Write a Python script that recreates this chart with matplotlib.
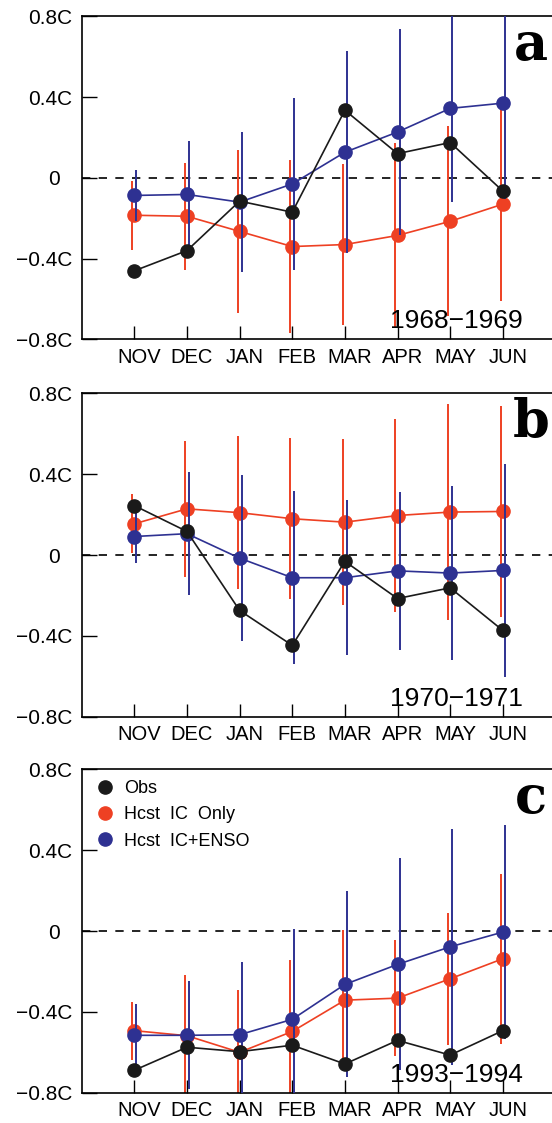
import matplotlib
matplotlib.use("Agg")
import matplotlib.pyplot as plt
import matplotlib.transforms as mtransforms
from matplotlib.lines import Line2D

plt.rcParams['font.family'] = ['Liberation Sans', 'DejaVu Sans']

months = ['NOV', 'DEC', 'JAN', 'FEB', 'MAR', 'APR', 'MAY', 'JUN']
ytick_vals = [0.8, 0.4, 0, -0.4, -0.8]
ytick_labels = ['0.8C', '0.4C', '0  ', '\u22120.4C', '\u22120.8C']

# 1968-1969
a_obs = [-0.46, -0.36, -0.115, -0.17, 0.335, 0.12, 0.175, -0.065]
a_ic = [-0.185, -0.19, -0.265, -0.34, -0.33, -0.285, -0.215, -0.13]
a_ic_err = [0.17, 0.265, 0.405, 0.43, 0.40, 0.46, 0.47, 0.478]
a_enso = [-0.087, -0.082, -0.12, -0.03, 0.127, 0.227, 0.344, 0.37]
a_enso_err = [0.125, 0.263, 0.348, 0.425, 0.50, 0.508, 0.464, 0.477]

# 1970-1971
b_obs = [0.245, 0.117, -0.274, -0.447, -0.031, -0.215, -0.162, -0.373]
b_ic = [0.155, 0.229, 0.21, 0.18, 0.163, 0.196, 0.213, 0.216]
b_ic_err = [0.145, 0.335, 0.38, 0.398, 0.41, 0.48, 0.535, 0.52]
b_enso = [0.092, 0.106, -0.015, -0.112, -0.112, -0.078, -0.089, -0.076]
b_enso_err = [0.132, 0.305, 0.412, 0.428, 0.385, 0.39, 0.43, 0.525]

# 1993-1994
c_obs = [-0.689, -0.575, -0.597, -0.565, -0.658, -0.541, -0.614, -0.493]
c_ic = [-0.493, -0.518, -0.60, -0.497, -0.342, -0.332, -0.236, -0.137]
c_ic_err = [0.143, 0.30, 0.306, 0.352, 0.345, 0.288, 0.326, 0.42]
c_enso = [-0.516, -0.516, -0.513, -0.437, -0.264, -0.165, -0.078, -0.005]
c_enso_err = [0.153, 0.268, 0.361, 0.445, 0.46, 0.525, 0.584, 0.53]

panels = [
    ('a', '1968\u22121969', a_obs, a_ic, a_ic_err, a_enso, a_enso_err),
    ('b', '1970\u22121971', b_obs, b_ic, b_ic_err, b_enso, b_enso_err),
    ('c', '1993\u22121994', c_obs, c_ic, c_ic_err, c_enso, c_enso_err),
]

RED = '#ee4023'
BLUE = '#2e3192'
BLACK = '#1a1a1a'

fig = plt.figure(figsize=(5.52, 11.23), dpi=100)
bottoms = [0.6977, 0.3618, 0.0270]
x = list(range(len(months)))

for (letter, years, obs, ic, ic_err, enso, enso_err), bottom in zip(panels, bottoms):
    # the right spine sits just past the edge of the figure
    ax = fig.add_axes([0.148, bottom, 0.863, 0.2878])

    ax.axhline(0, color='black', lw=1.2, ls=(0, (5, 5)), zorder=1)

    # error bars, nudged apart a little
    ax.vlines([i - 0.04 for i in x], [v - e for v, e in zip(ic, ic_err)],
              [v + e for v, e in zip(ic, ic_err)], color=RED, lw=1.4, zorder=2)
    ax.plot(x, ic, color=RED, lw=1.2, marker='o', ms=9.5, zorder=3)
    ax.vlines([i + 0.04 for i in x], [v - e for v, e in zip(enso, enso_err)],
              [v + e for v, e in zip(enso, enso_err)], color=BLUE, lw=1.4, zorder=4)
    ax.plot(x, enso, color=BLUE, lw=1.2, marker='o', ms=9.5, zorder=5)
    ax.plot(x, obs, color=BLACK, lw=1.2, marker='o', ms=9.5, zorder=6)

    ax.set_xlim(-1, 8.05)
    ax.set_ylim(-0.8, 0.8)
    ax.set_xticks(x)
    ax.set_xticklabels(months)
    ax.set_yticks(ytick_vals)
    ax.set_yticklabels(ytick_labels)
    ax.tick_params(axis='x', direction='in', length=9.5, width=1.0, pad=6, labelsize=14.5)
    ax.tick_params(axis='y', direction='in', length=11, width=1.0, pad=7, labelsize=15)
    shift = mtransforms.ScaledTranslation(5 / 100, 0, fig.dpi_scale_trans)
    for lab in ax.get_xticklabels():
        lab.set_transform(lab.get_transform() + shift)
    for s in ax.spines.values():
        s.set_linewidth(1.2)

    ax.text(7.38, -0.745, years, ha='right', va='baseline', fontsize=19, zorder=7)
    ax.text(0.944, 0.866, letter, transform=ax.transAxes, ha='center', va='baseline',
            fontsize=38, fontweight='bold', family='DejaVu Serif')

    if letter == 'c':
        handles = [Line2D([], [], ls='none', marker='o', ms=9.5, color=c)
                   for c in (BLACK, RED, BLUE)]
        ax.legend(handles, ['Obs', 'Hcst  IC  Only', 'Hcst  IC+ENSO'], loc='upper left',
                  bbox_to_anchor=(0.034, 0.966), borderaxespad=0, borderpad=0,
                  frameon=False, fontsize=13, handlelength=0.8, handletextpad=0.65,
                  labelspacing=0.5)

fig.savefig('out.png', dpi=100)
